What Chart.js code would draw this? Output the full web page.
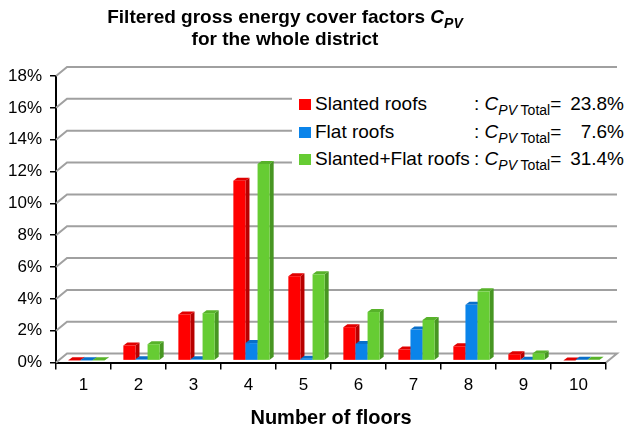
<!DOCTYPE html>
<html>
<head>
<meta charset="utf-8">
<script src="https://cdn.jsdelivr.net/npm/chart.js@4.4.1/dist/chart.umd.min.js"></script>
<style>
body{margin:0;background:#fff;font-family:"Liberation Sans",Arial,sans-serif;color:#000;}
#wrap{position:relative;width:629px;height:432px;overflow:hidden;}
#title{position:absolute;left:0;width:570px;top:6px;text-align:center;font-weight:bold;font-size:19px;line-height:22px;}
#title sub{font-size:14px;vertical-align:-5px;line-height:0;}
#legend{position:absolute;left:292px;top:88px;width:337px;height:96px;background:#fff;font-size:19px;}
.row{position:absolute;left:0;width:337px;height:24px;line-height:24px;white-space:nowrap;}
.sw{position:absolute;left:7px;top:7px;width:12px;height:11px;}
.lab{position:absolute;left:23px;}
.cp{position:absolute;left:182px;}
.cp sub{font-size:14px;vertical-align:-5px;line-height:0;}
.val{position:absolute;right:5px;}
</style>
</head>
<body>
<div id="wrap">
  <canvas id="c" width="629" height="432"></canvas>
  <div id="title">Filtered gross energy cover factors <i>C<sub>PV</sub></i><br>for the whole district</div>
  <div id="legend"></div>
</div>
<script>
// data
const floors = ['1','2','3','4','5','6','7','8','9','10'];
const slanted = [0.02, 0.95, 2.9, 11.3, 5.3, 2.1, 0.7, 0.9, 0.4, 0.0];
const flat    = [0.02, 0.08, 0.08, 1.1, 0.12, 1.05, 1.95, 3.5, 0.05, 0.05];
const both    = [0.02, 1.03, 2.98, 12.35, 5.42, 3.05, 2.55, 4.35, 0.45, 0.05];
const seriesNames = ['Slanted roofs', 'Flat roofs', 'Slanted+Flat roofs'];
const totals = ['23.8%', '7.6%', '31.4%'];
const yTicks = [0, 2, 4, 6, 8, 10, 12, 14, 16, 18];

const front = ['#ff0000', '#0a84ea', '#66cc33'];
const side  = ['#b80000', '#0058a8', '#479622'];
const top_  = ['#e00000', '#0a6fc8', '#57b22a'];

// legend (html so the subscripts work)
const leg = document.getElementById('legend');
seriesNames.forEach((n,i)=>{
  const r = document.createElement('div');
  r.className = 'row';
  r.style.top = (4 + i*27.5) + 'px';
  r.innerHTML = `<span class="sw" style="background:${front[i]}"></span><span class="lab">${n}</span>
    <span class="cp">: <i>C</i><sub><i>PV</i> Total</sub>=</span><span class="val">${totals[i]}</span>`;
  leg.appendChild(r);
});

const DX = 11, DY = 9;     // back offset of the walls
const BD = 4, BH = 3;      // bar depth
const OX = 3, OY = 2;      // bars sit a bit behind the front plane

const grid3d = {
  id: 'grid3d',
  beforeDatasetsDraw(chart){
    const {ctx, chartArea:a, scales:{y}} = chart;
    ctx.save();
    ctx.strokeStyle = '#a0a0a0';
    ctx.lineWidth = 2;
    y.ticks.forEach((t,i)=>{
      const py = y.getPixelForValue(t.value);
      ctx.beginPath();
      ctx.moveTo(a.left, py);
      ctx.lineTo(a.left+DX, py-DY);
      ctx.lineTo(a.right+DX, py-DY);
      if(i===0) ctx.lineTo(a.right, py);
      ctx.stroke();
    });
    ctx.restore();
  }
};

const bars3d = {
  id: 'bars3d',
  afterDatasetsDraw(chart){
    const ctx = chart.ctx;
    const metas = [0,1,2].map(d=>chart.getDatasetMeta(d));
    ctx.save();
    ctx.translate(OX, -OY);
    floors.forEach((f,i)=>{
      metas.forEach((m,d)=>{
        const b = m.data[i];
        const l = b.x - b.width/2, r = b.x + b.width/2, t = b.y, bot = b.base;
        // side
        ctx.fillStyle = side[d];
        ctx.beginPath();
        ctx.moveTo(r, bot); ctx.lineTo(r+BD, bot-BH); ctx.lineTo(r+BD, t-BH); ctx.lineTo(r, t);
        ctx.closePath(); ctx.fill();
        // top
        ctx.fillStyle = top_[d];
        ctx.beginPath();
        ctx.moveTo(l, t); ctx.lineTo(l+BD, t-BH); ctx.lineTo(r+BD, t-BH); ctx.lineTo(r, t);
        ctx.closePath(); ctx.fill();
        // front
        ctx.fillStyle = front[d];
        ctx.fillRect(l, t, r-l, bot-t);
      });
    });
    ctx.restore();
  }
};

Chart.defaults.font.family = '"Liberation Sans", Arial, sans-serif';
Chart.defaults.color = '#000';

new Chart(document.getElementById('c'), {
  type: 'bar',
  data: {
    labels: floors,
    datasets: [
      {label: seriesNames[0], data: slanted, backgroundColor: 'rgba(0,0,0,0)'},
      {label: seriesNames[1], data: flat, backgroundColor: 'rgba(0,0,0,0)'},
      {label: seriesNames[2], data: both, backgroundColor: 'rgba(0,0,0,0)'}
    ]
  },
  options: {
    responsive: false,
    animation: false,
    devicePixelRatio: 1,
    layout: {padding: {top: 76, right: 23, left: 0, bottom: 0}},
    datasets: {bar: {categoryPercentage: 0.66, barPercentage: 1.0}},
    plugins: {legend: {display: false}, tooltip: {enabled: false}},
    scales: {
      x: {
        grid: {display: true, drawOnChartArea: false, offset: true, tickLength: 7, color: '#000', lineWidth: 1.5},
        border: {color: '#000', width: 2},
        ticks: {font: {size: 17}, padding: 6},
        title: {display: true, text: 'Number of floors', font: {size: 20, weight: 'bold'}, padding: {top: 4, bottom: 2}}
      },
      y: {
        min: 0, max: 18,
        afterBuildTicks: s => { s.ticks = yTicks.map(v=>({value: v})); },
        grid: {drawOnChartArea: false, tickLength: 6, color: '#000', lineWidth: 1.5},
        border: {color: '#000', width: 2},
        ticks: {font: {size: 17}, padding: 8, callback: v => v + '%'}
      }
    }
  },
  plugins: [grid3d, bars3d]
});
</script>
</body>
</html>
